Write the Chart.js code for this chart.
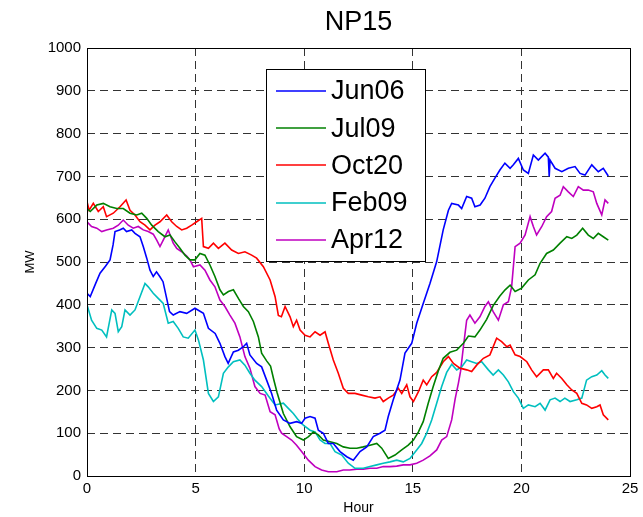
<!DOCTYPE html>
<html>
<head>
<meta charset="utf-8">
<script src="https://cdn.jsdelivr.net/npm/chart.js@4.4.1/dist/chart.umd.min.js"></script>
<style>
  html, body { margin: 0; padding: 0; background: #fff; }
  #wrap { width: 643px; height: 517px; }
</style>
</head>
<body>
<div id="wrap"><canvas id="np15"></canvas></div>
<script>
// === NP15 hourly MW traces ===

const seriesNames = ['Jun06', 'Jul09', 'Oct20', 'Feb09', 'Apr12'];
const seriesColors = ['#0000ff', '#008000', '#ff0000', '#00bfbf', '#bf00bf'];
const xTicks = [0, 5, 10, 15, 20, 25];
const yTicks = [0, 100, 200, 300, 400, 500, 600, 700, 800, 900, 1000];

// Jun06
const jun06Hours = [0, 0.15, 0.4, 0.6, 0.85, 1.06, 1.2, 1.29, 1.5, 1.67, 1.82, 2.06, 2.21, 2.44, 2.59, 2.75, 2.9, 3.05, 3.2, 3.35, 3.5, 3.65, 3.8, 3.97, 4.28, 4.59, 4.97, 5.36, 5.59, 5.9, 6.12, 6.35, 6.5, 6.74, 6.97, 7.2, 7.35, 7.5, 7.81, 8.04, 8.27, 8.5, 8.73, 9.04, 9.35, 9.65, 9.88, 10.04, 10.27, 10.5, 10.65, 10.88, 11.11, 11.34, 11.65, 11.96, 12.26, 12.57, 12.88, 13.18, 13.49, 13.72, 13.87, 14.1, 14.41, 14.64, 14.95, 15.18, 15.48, 15.79, 16.1, 16.4, 16.64, 16.79, 17.1, 17.25, 17.48, 17.71, 17.86, 18.1, 18.32, 18.55, 18.78, 19.01, 19.24, 19.48, 19.63, 19.86, 20.09, 20.32, 20.55, 20.78, 21.09, 21.24, 21.28, 21.32, 21.55, 21.86, 22.16, 22.47, 22.7, 22.93, 23.24, 23.54, 23.77, 24.0];
const jun06MW = [427, 419, 450, 474, 490, 505, 540, 571, 575, 579, 571, 575, 567, 559, 536, 509, 481, 466, 477, 466, 454, 419, 384, 376, 384, 380, 392, 380, 345, 333, 310, 279, 263, 290, 294, 302, 310, 283, 263, 255, 224, 193, 154, 131, 123, 127, 123, 135, 139, 135, 107, 100, 76, 76, 57, 45, 37, 57, 68, 92, 100, 107, 139, 178, 224, 287, 310, 357, 403, 450, 501, 575, 621, 637, 633, 625, 653, 649, 629, 633, 649, 676, 696, 715, 731, 719, 727, 742, 715, 707, 750, 738, 754, 745, 700, 738, 719, 711, 719, 723, 707, 703, 727, 711, 719, 701];

// Jul09
const jul09Hours = [0, 0.15, 0.45, 0.75, 1.06, 1.37, 1.67, 1.98, 2.29, 2.52, 2.75, 2.98, 3.28, 3.59, 3.82, 4.05, 4.28, 4.51, 4.74, 4.97, 5.2, 5.43, 5.66, 5.89, 6.12, 6.28, 6.51, 6.74, 6.97, 7.2, 7.43, 7.66, 7.89, 8.04, 8.27, 8.45, 8.6, 8.75, 9.04, 9.35, 9.65, 9.96, 10.2, 10.42, 10.65, 10.88, 11.19, 11.5, 11.8, 12.11, 12.42, 12.72, 13.03, 13.34, 13.57, 13.87, 14.18, 14.49, 14.79, 15.03, 15.26, 15.48, 15.71, 15.94, 16.17, 16.4, 16.71, 17.02, 17.33, 17.56, 17.86, 18.09, 18.4, 18.7, 19.0, 19.25, 19.48, 19.71, 20.01, 20.32, 20.63, 20.86, 21.16, 21.47, 21.78, 22.09, 22.32, 22.55, 22.82, 23.08, 23.31, 23.54, 23.77, 24.0];
const jul09MW = [625, 618, 633, 637, 629, 625, 625, 614, 610, 614, 602, 586, 571, 559, 563, 547, 532, 516, 505, 505, 520, 516, 493, 466, 435, 423, 431, 435, 415, 396, 384, 361, 325, 287, 269, 257, 225, 195, 146, 115, 92, 84, 92, 103, 96, 84, 80, 76, 68, 65, 65, 68, 72, 76, 65, 41, 49, 61, 72, 84, 103, 127, 170, 209, 245, 275, 289, 294, 310, 327, 325, 341, 366, 398, 420, 435, 446, 431, 439, 458, 470, 497, 520, 528, 544, 559, 555, 563, 579, 563, 555, 567, 559, 551];

// Oct20
const oct20Hours = [0, 0.1, 0.29, 0.52, 0.75, 0.9, 1.21, 1.52, 1.8, 1.98, 2.21, 2.44, 2.67, 2.9, 3.13, 3.36, 3.67, 3.9, 4.13, 4.36, 4.59, 4.82, 5.05, 5.28, 5.33, 5.36, 5.59, 5.82, 6.05, 6.35, 6.66, 6.97, 7.27, 7.58, 7.81, 8.12, 8.43, 8.66, 8.81, 8.95, 9.12, 9.35, 9.5, 9.65, 9.81, 10.04, 10.27, 10.5, 10.73, 10.96, 11.11, 11.34, 11.57, 11.8, 12.03, 12.34, 12.65, 12.95, 13.26, 13.49, 13.64, 13.87, 14.1, 14.33, 14.49, 14.72, 14.87, 15.03, 15.26, 15.48, 15.64, 15.87, 16.1, 16.4, 16.64, 16.87, 17.17, 17.48, 17.71, 17.94, 18.25, 18.55, 18.86, 19.09, 19.33, 19.48, 19.71, 19.94, 20.25, 20.47, 20.7, 21.01, 21.24, 21.47, 21.62, 21.86, 22.09, 22.32, 22.55, 22.78, 23.0, 23.24, 23.47, 23.62, 23.77, 24.0];
const oct20MW = [641, 621, 637, 618, 629, 606, 614, 629, 645, 621, 610, 594, 586, 575, 586, 594, 610, 594, 583, 575, 579, 586, 594, 602, 560, 536, 532, 544, 532, 544, 528, 520, 524, 516, 509, 489, 458, 419, 375, 372, 396, 372, 349, 364, 341, 329, 325, 337, 329, 337, 310, 271, 240, 205, 193, 193, 189, 185, 182, 185, 174, 182, 189, 205, 193, 213, 185, 174, 197, 224, 213, 232, 242, 267, 279, 263, 252, 248, 244, 259, 275, 283, 322, 314, 302, 306, 283, 279, 267, 248, 232, 248, 248, 228, 240, 228, 213, 201, 193, 170, 166, 158, 162, 166, 143, 131];

// Feb09
const feb09Hours = [0, 0.21, 0.45, 0.68, 0.9, 1.14, 1.29, 1.44, 1.6, 1.75, 1.98, 2.21, 2.44, 2.67, 2.82, 3.05, 3.28, 3.51, 3.74, 3.97, 4.2, 4.43, 4.66, 4.97, 5.13, 5.36, 5.59, 5.82, 6.05, 6.28, 6.51, 6.74, 7.04, 7.27, 7.5, 7.73, 8.04, 8.35, 8.66, 9.04, 9.27, 9.5, 9.73, 9.96, 10.27, 10.5, 10.73, 10.96, 11.19, 11.42, 11.73, 12.03, 12.34, 12.72, 13.03, 13.34, 13.64, 13.95, 14.26, 14.56, 14.87, 15.18, 15.41, 15.64, 15.87, 16.1, 16.33, 16.56, 16.79, 17.02, 17.25, 17.48, 17.71, 17.94, 18.17, 18.48, 18.7, 18.94, 19.17, 19.4, 19.63, 19.86, 20.09, 20.32, 20.63, 20.86, 21.09, 21.32, 21.55, 21.78, 22.0, 22.24, 22.55, 22.78, 23.0, 23.24, 23.47, 23.7, 23.85, 24.0];
const feb09MW = [400, 364, 345, 341, 325, 388, 380, 337, 349, 388, 376, 388, 419, 450, 442, 427, 415, 403, 357, 361, 345, 325, 322, 341, 318, 271, 193, 174, 185, 240, 255, 267, 271, 259, 240, 224, 209, 187, 166, 170, 158, 146, 131, 119, 107, 103, 84, 76, 76, 57, 49, 30, 18, 18, 22, 26, 30, 33, 37, 33, 41, 61, 76, 100, 131, 170, 209, 242, 261, 248, 255, 271, 267, 263, 267, 248, 236, 248, 236, 220, 197, 182, 158, 166, 162, 170, 154, 178, 182, 174, 182, 174, 178, 182, 224, 232, 236, 246, 236, 228];

// Apr12
const apr12Hours = [0, 0.21, 0.45, 0.68, 0.9, 1.21, 1.44, 1.67, 1.9, 2.13, 2.36, 2.59, 2.82, 3.05, 3.21, 3.36, 3.51, 3.74, 3.97, 4.13, 4.36, 4.59, 4.74, 4.9, 5.2, 5.43, 5.66, 5.89, 6.12, 6.35, 6.58, 6.81, 7.04, 7.27, 7.5, 7.73, 7.97, 8.2, 8.43, 8.66, 8.85, 8.96, 9.19, 9.42, 9.65, 9.88, 10.19, 10.5, 10.8, 11.11, 11.5, 11.8, 12.1, 12.42, 12.72, 13.03, 13.34, 13.64, 13.95, 14.26, 14.56, 14.87, 15.18, 15.48, 15.79, 16.1, 16.33, 16.56, 16.79, 16.95, 17.1, 17.2, 17.33, 17.48, 17.63, 17.86, 18.09, 18.32, 18.48, 18.7, 18.94, 19.17, 19.4, 19.55, 19.71, 19.94, 20.17, 20.4, 20.55, 20.7, 20.94, 21.16, 21.39, 21.55, 21.78, 21.93, 22.16, 22.39, 22.62, 22.85, 23.08, 23.31, 23.47, 23.7, 23.85, 24.0];
const apr12MW = [594, 583, 579, 571, 575, 579, 586, 598, 586, 579, 583, 575, 571, 565, 551, 536, 551, 575, 544, 532, 524, 514, 505, 489, 493, 481, 458, 442, 411, 396, 376, 357, 325, 279, 252, 209, 193, 189, 150, 143, 110, 100, 92, 84, 72, 57, 37, 22, 14, 10, 10, 14, 14, 16, 16, 18, 18, 22, 22, 23, 26, 26, 30, 37, 47, 61, 84, 92, 131, 180, 217, 245, 302, 364, 376, 357, 372, 396, 407, 384, 364, 400, 407, 442, 536, 544, 563, 606, 583, 563, 583, 606, 618, 649, 656, 676, 664, 653, 676, 668, 668, 664, 637, 610, 645, 637];

const seriesHours = [jun06Hours, jul09Hours, oct20Hours, feb09Hours, apr12Hours];
const seriesMW = [jun06MW, jul09MW, oct20MW, feb09MW, apr12MW];

const FONT = "'Liberation Sans', Arial, Helvetica, sans-serif";

function toPoints(hours, values) {
    return hours.map((h, i) => ({ x: h, y: values[i] }));
}

// Axes box drawn on top of the dashed grid
const framePlugin = {
    id: 'frame',
    afterDatasetsDraw(chart) {
        const { ctx, chartArea: a } = chart;
        ctx.save();
        ctx.strokeStyle = '#000';
        ctx.lineWidth = 1;
        ctx.setLineDash([]);
        ctx.strokeRect(Math.round(a.left) + 0.5, Math.round(a.top) + 0.5,
            Math.round(a.right - a.left), Math.round(a.bottom - a.top));
        ctx.restore();
    }
};

// MATLAB-style boxed legend inside the axes
const boxLegendPlugin = {
    id: 'boxLegend',
    afterDraw(chart) {
        const { ctx } = chart;
        const box = { x: 266, y: 69, w: 159, h: 192 };
        ctx.save();
        ctx.fillStyle = '#fff';
        ctx.fillRect(box.x, box.y, box.w, box.h);
        ctx.strokeStyle = '#000';
        ctx.lineWidth = 1;
        ctx.setLineDash([]);
        ctx.strokeRect(box.x + 0.5, box.y + 0.5, box.w, box.h);
        ctx.font = '27px ' + FONT;
        ctx.textBaseline = 'middle';
        chart.data.datasets.forEach((ds, i) => {
            const y = 91 + i * 37.2;
            ctx.strokeStyle = seriesColors[i];
            ctx.lineWidth = 1.5;
            ctx.beginPath();
            ctx.moveTo(276, Math.round(y));
            ctx.lineTo(326, Math.round(y));
            ctx.stroke();
            ctx.fillStyle = '#000';
            ctx.fillText(ds.label, 331, y + 1);
        });
        ctx.restore();
    }
};

const datasets = seriesNames.map((name, i) => ({
    label: name,
    data: toPoints(seriesHours[i], seriesMW[i]),
    borderColor: seriesColors[i],
    backgroundColor: seriesColors[i],
    borderWidth: 1.6,
    pointRadius: 0,
    tension: 0,
    fill: false
}));

const gridStyle = { color: '#333', lineWidth: 1, drawTicks: false };

new Chart(document.getElementById('np15'), {
    type: 'line',
    data: { datasets },
    options: {
        responsive: true,
        maintainAspectRatio: false,
        animation: false,
        events: [],
        layout: { padding: { top: 0, right: 13, bottom: 0, left: 0 } },
        plugins: {
            legend: { display: false },
            tooltip: { enabled: false },
            title: {
                display: true,
                text: 'NP15',
                fullSize: false,
                color: '#000',
                font: { family: FONT, size: 27, weight: 'normal' },
                padding: { top: 6, bottom: 9.6 }
            }
        },
        scales: {
            x: {
                type: 'linear',
                min: 0,
                max: 25,
                afterBuildTicks: (s) => { s.ticks = xTicks.map(v => ({ value: v })); },
                afterFit: (s) => { s.height = 41; },
                grid: gridStyle,
                border: { display: false, dash: [8, 5] },
                ticks: {
                    color: '#000', padding: 4,
                    font: { family: FONT, size: 15 },
                    callback: (v) => String(v)
                },
                title: {
                    display: true,
                    text: 'Hour',
                    color: '#000',
                    padding: { top: 0, bottom: 0 },
                    font: { family: FONT, size: 14 }
                }
            },
            y: {
                type: 'linear',
                min: 0,
                max: 1000,
                afterBuildTicks: (s) => { s.ticks = yTicks.map(v => ({ value: v })); },
                afterFit: (s) => { s.width = 87; },
                grid: gridStyle,
                border: { display: false, dash: [8, 5] },
                ticks: {
                    color: '#000', padding: 6,
                    font: { family: FONT, size: 15 },
                    callback: (v) => String(v)
                },
                title: {
                    display: true,
                    text: 'MW',
                    color: '#000',
                    padding: { top: 23, bottom: 0 },
                    font: { family: FONT, size: 13 }
                }
            }
        }
    },
    plugins: [framePlugin, boxLegendPlugin]
});
</script>
</body>
</html>
